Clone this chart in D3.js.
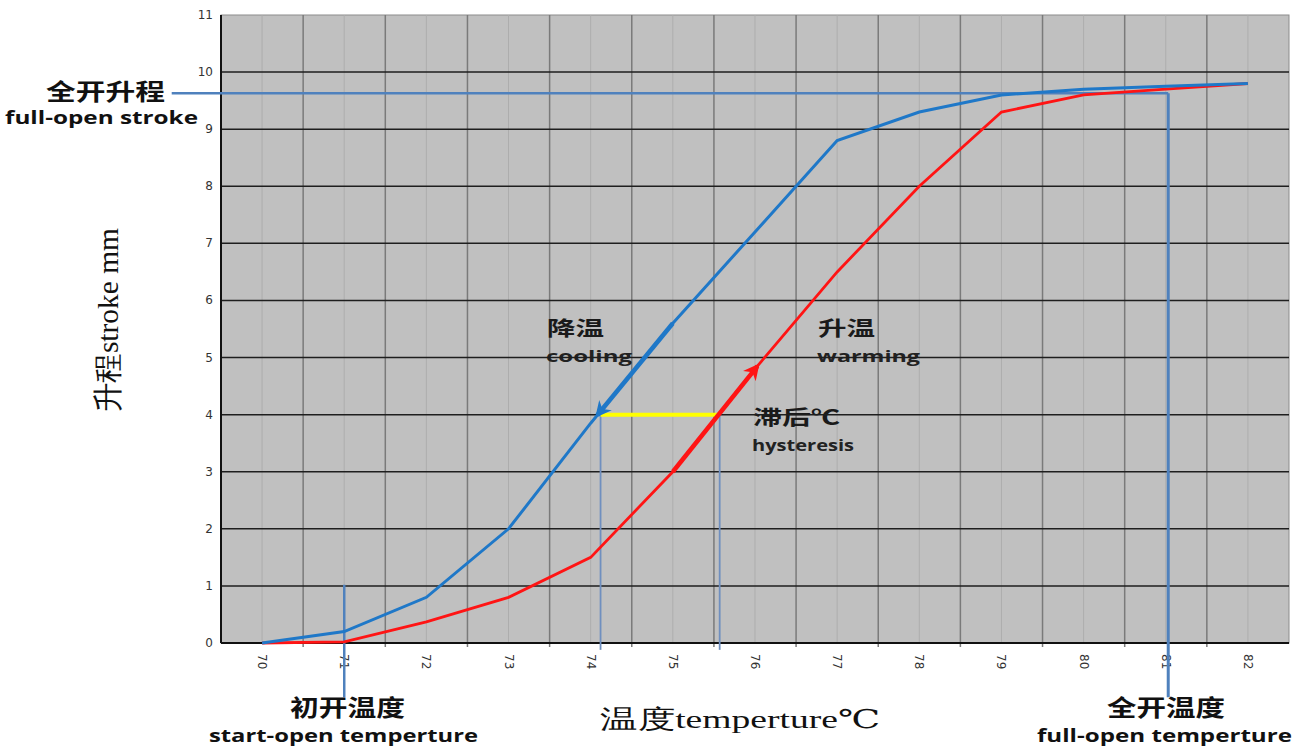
<!DOCTYPE html>
<html>
<head>
<meta charset="utf-8">
<script src="https://cdnjs.cloudflare.com/ajax/libs/d3/7.8.5/d3.min.js"></script>
<style>
  body { margin: 0; background: #fff; }
  .cjk { font-family: "Noto Sans CJK SC", sans-serif; font-weight: bold; }
  .en { font-family: "Open Sans", "Noto Sans", sans-serif; font-weight: bold; }
</style>
</head>
<body>
<div id="chart"></div>
<script>
// data
var temps = [70, 71, 72, 73, 74, 75, 76, 77, 78, 79, 80, 81, 82];
var cooling = [0, 0.2, 0.8, 2.0, 3.85, 5.6, 7.2, 8.8, 9.3, 9.6, 9.7, 9.75, 9.8];
var warming = [0, 0.02, 0.37, 0.8, 1.5, 3.0, 4.8, 6.5, 8.0, 9.3, 9.6, 9.7, 9.8];
var yTicks = [0, 1, 2, 3, 4, 5, 6, 7, 8, 9, 10, 11];

// annotation values
var fullStroke = 9.63, fullTemp = 81.03, startTemp = 71;
var hystStroke = 4, hystCool = 74.12, hystWarm = 75.57;
var coolArrow = [75, 74.08];
var warmArrow = [75, 76.03];

var margin = {top: 15, right: 18, bottom: 103, left: 221},
    width = 1307 - margin.left - margin.right,
    height = 746 - margin.top - margin.bottom;

var root = d3.select("#chart")
  .append("svg")
    .attr("width", 1307)
    .attr("height", 746);

var svg = root.append("g")
    .attr("transform", "translate(" + margin.left + "," + margin.top + ")");

var x = d3.scaleLinear()
  .domain([69.5, 82.5])
  .range([0, width]);

var y = d3.scaleLinear()
  .domain([0, 11])
  .range([height, 0]);

// value at a temperature along a series
function along(series, t) {
  var i = Math.min(Math.floor(t - 70), temps.length - 2);
  var f = t - temps[i];
  return series[i] + (series[i + 1] - series[i]) * f;
}

var defs = root.append("defs");
function marker(id, color) {
  defs.append("marker")
    .attr("id", id)
    .attr("viewBox", "0 0 10 10")
    .attr("refX", 8).attr("refY", 5)
    .attr("markerWidth", 4).attr("markerHeight", 3.6)
    .attr("markerUnits", "strokeWidth")
    .attr("orient", "auto")
    .append("path")
      .attr("d", "M0,0 L10,5 L0,10 L3,5 Z")
      .attr("fill", color);
}
marker("blueHead", "#1f78c8");
marker("redHead", "#ff1414");

// plot background
svg.append("rect")
  .attr("width", width)
  .attr("height", height)
  .attr("fill", "#c0c0c0")
  .attr("stroke", "#8c8c8c");

// minor vertical lines on the categories
svg.selectAll(".minor")
  .data(temps)
  .enter().append("line")
    .attr("x1", function(d) { return x(d); })
    .attr("x2", function(d) { return x(d); })
    .attr("y1", 0).attr("y2", height)
    .attr("stroke", "#adadad")
    .attr("stroke-width", 1);

// major vertical lines between categories
svg.selectAll(".major")
  .data(temps.slice(0, -1))
  .enter().append("line")
    .attr("x1", function(d) { return x(d + 0.5); })
    .attr("x2", function(d) { return x(d + 0.5); })
    .attr("y1", 0).attr("y2", height + 4)
    .attr("stroke", "#7a7a7a")
    .attr("stroke-width", 1.5);

// in-plot labels (gridlines go over them)
function label(cn, en, tx, ty, cnLen, enLen) {
  svg.append("text").attr("class", "cjk")
    .attr("x", tx).attr("y", ty)
    .attr("font-size", 20).attr("fill", "#1a1a1a")
    .attr("textLength", cnLen).attr("lengthAdjust", "spacingAndGlyphs")
    .text(cn);
  svg.append("text").attr("class", "en")
    .attr("x", tx - 1).attr("y", ty + 26)
    .attr("font-size", 16).attr("fill", "#222")
    .attr("textLength", enLen).attr("lengthAdjust", "spacingAndGlyphs")
    .text(en);
}
label("降温", "cooling", 547 - margin.left, 336 - margin.top, 57, 86);
label("升温", "warming", 818 - margin.left, 336 - margin.top, 57, 103);
label("滞后℃", "hysteresis", 753 - margin.left, 425 - margin.top, 87, 102);

// horizontal gridlines
svg.selectAll(".hgrid")
  .data(yTicks.slice(1, -1))
  .enter().append("line")
    .attr("x1", 0).attr("x2", width)
    .attr("y1", function(d) { return y(d); })
    .attr("y2", function(d) { return y(d); })
    .attr("stroke", "#1e1e1e")
    .attr("stroke-width", 1.5);

// axes lines
svg.append("line").attr("x1", 0).attr("x2", 0).attr("y1", 0).attr("y2", height)
  .attr("stroke", "#111").attr("stroke-width", 2);
svg.append("line").attr("x1", 0).attr("x2", width).attr("y1", height).attr("y2", height)
  .attr("stroke", "#111").attr("stroke-width", 2);

// y tick labels
svg.selectAll(".ylab")
  .data(yTicks)
  .enter().append("text")
    .attr("x", -8)
    .attr("y", function(d) { return y(d) + 4; })
    .attr("text-anchor", "end")
    .attr("font-family", "Verdana, DejaVu Sans, sans-serif")
    .attr("font-size", 12)
    .attr("fill", "#333")
    .text(function(d) { return d; });

// x tick labels, turned
svg.selectAll(".xlab")
  .data(temps)
  .enter().append("text")
    .attr("transform", function(d) { return "translate(" + (x(d) - 4) + "," + (height + 11) + ") rotate(90)"; })
    .attr("font-family", "Verdana, DejaVu Sans, sans-serif")
    .attr("font-size", 12)
    .attr("fill", "#333")
    .text(function(d) { return d; });

// reference lines
var refColor = "#4f81bd";
svg.append("line")
  .attr("x1", x(68.9)).attr("x2", x(fullTemp))
  .attr("y1", y(fullStroke)).attr("y2", y(fullStroke))
  .attr("stroke", refColor).attr("stroke-width", 2.5);
svg.append("line")
  .attr("x1", x(fullTemp)).attr("x2", x(fullTemp))
  .attr("y1", y(fullStroke)).attr("y2", y(-0.95))
  .attr("stroke", refColor).attr("stroke-width", 3);
svg.append("line")
  .attr("x1", x(startTemp)).attr("x2", x(startTemp))
  .attr("y1", y(1.02)).attr("y2", y(-0.95))
  .attr("stroke", refColor).attr("stroke-width", 2.5);
[hystCool, hystWarm].forEach(function(t) {
  svg.append("line")
    .attr("x1", x(t)).attr("x2", x(t))
    .attr("y1", y(hystStroke)).attr("y2", y(-0.12))
    .attr("stroke", "#6f8fbf").attr("stroke-width", 1.8);
});

var line = d3.line()
  .x(function(d, i) { return x(temps[i]); })
  .y(function(d) { return y(d); });

svg.append("path")
  .datum(warming)
  .attr("d", line)
  .attr("fill", "none")
  .attr("stroke", "#ff1414")
  .attr("stroke-width", 2.8);

svg.append("path")
  .datum(cooling)
  .attr("d", line)
  .attr("fill", "none")
  .attr("stroke", "#1f78c8")
  .attr("stroke-width", 3);

// hysteresis bar
svg.append("line")
  .attr("x1", x(hystCool)).attr("x2", x(hystWarm))
  .attr("y1", y(hystStroke)).attr("y2", y(hystStroke))
  .attr("stroke", "#ffff00").attr("stroke-width", 4);

// direction arrows
svg.append("line")
  .attr("x1", x(coolArrow[0])).attr("y1", y(along(cooling, coolArrow[0])))
  .attr("x2", x(coolArrow[1])).attr("y2", y(along(cooling, coolArrow[1])))
  .attr("stroke", "#1f78c8").attr("stroke-width", 4.5)
  .attr("marker-end", "url(#blueHead)");
svg.append("line")
  .attr("x1", x(warmArrow[0])).attr("y1", y(along(warming, warmArrow[0])))
  .attr("x2", x(warmArrow[1])).attr("y2", y(along(warming, warmArrow[1])))
  .attr("stroke", "#ff1414").attr("stroke-width", 4.5)
  .attr("marker-end", "url(#redHead)");

// outside labels
function outer(text, cls, tx, ty, size, len) {
  root.append("text").attr("class", cls)
    .attr("x", tx).attr("y", ty)
    .attr("font-size", size).attr("fill", "#111")
    .attr("textLength", len).attr("lengthAdjust", "spacingAndGlyphs")
    .text(text);
}
outer("全开升程", "cjk", 46, 100, 23, 119);
outer("full-open stroke", "en", 5, 124, 17, 193);
outer("初开温度", "cjk", 290, 716, 23, 115);
outer("start-open temperture", "en", 209, 742, 17, 269);
outer("全开温度", "cjk", 1107, 716, 23, 118);
outer("full-open temperture", "en", 1037, 742, 17, 255);

// axis titles
root.append("text")
  .attr("x", 600).attr("y", 728)
  .attr("font-family", "Liberation Serif, DejaVu Serif, serif")
  .attr("font-size", 26).attr("fill", "#111")
  .attr("textLength", 280).attr("lengthAdjust", "spacingAndGlyphs")
  .text("温度temperture℃");

root.append("text")
  .attr("transform", "translate(118,412) rotate(-90)")
  .attr("font-family", "Liberation Serif, DejaVu Serif, serif")
  .attr("font-size", 30).attr("fill", "#111")
  .attr("textLength", 184).attr("lengthAdjust", "spacingAndGlyphs")
  .text("升程stroke mm");
</script>
</body>
</html>
